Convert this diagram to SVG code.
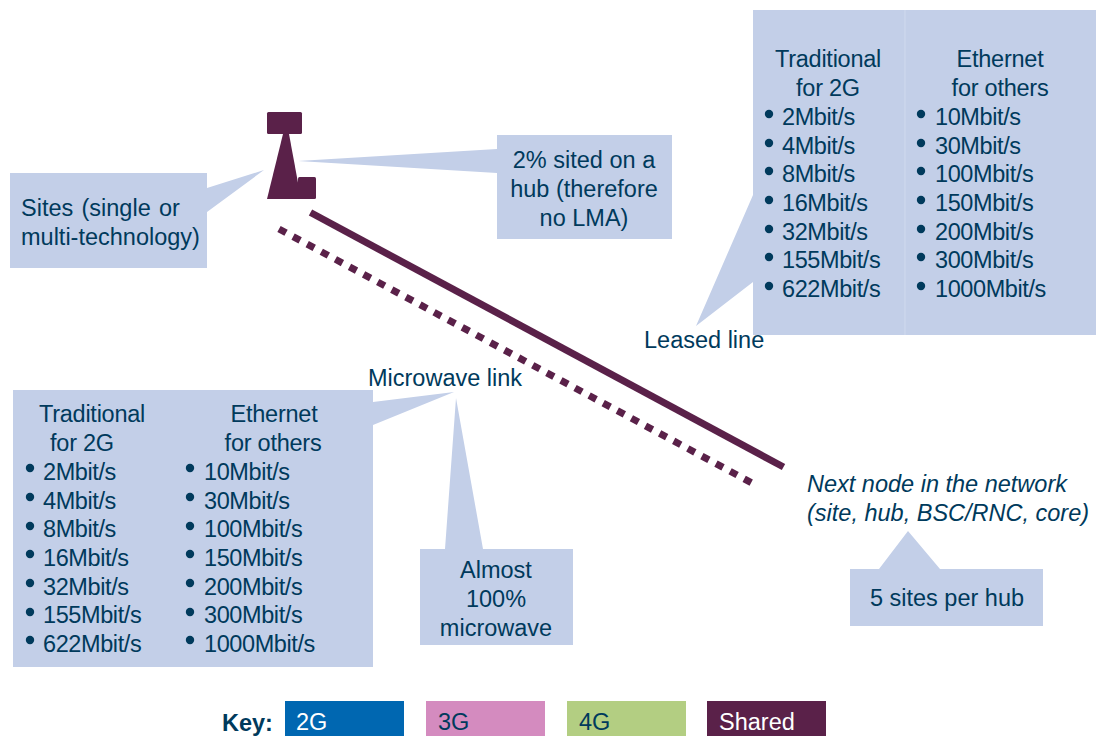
<svg xmlns="http://www.w3.org/2000/svg" width="1096" height="736" viewBox="0 0 1096 736">
<style>
text{font-family:"Liberation Sans",Arial,sans-serif;font-size:23.5px;fill:#003A5C}
.m{text-anchor:middle}
.b{fill:#C3CFE8}
.d{fill:#003A5C}
.t{fill:#5A2149}
.i{font-style:italic}
.mb text{letter-spacing:-.4px}
.h{letter-spacing:-.25px}
</style>
<defs>
<g id="bullet"><circle cx="0" cy="0" r="4.2" class="d"/></g>
</defs>
<g id="connectors">
<line x1="310.5" y1="212.500" x2="783.500" y2="467" stroke="#5A2149" stroke-width="7"/>
<line x1="279" y1="229" x2="752" y2="483" stroke="#5A2149" stroke-width="7" stroke-dasharray="8 8"/>
</g>
<g id="site-icon">
<rect x="267" y="112" width="35" height="22" rx="1.5" class="t"/>
<polygon points="283,134 289,134 301,199 267,199" class="t"/>
<rect x="298" y="177" width="18" height="22" rx="1.5" class="t"/>
</g>
<g id="sites-callout">
<polygon points="10,173 207,173 207,188 264,170 207,212 207,268 10,268" class="b"/>
<text x="21" y="216" word-spacing="1.7">Sites (single or</text>
<text x="21" y="244.500">multi-technology)</text>
</g>
<g id="hub-callout">
<polygon points="497,135 672,135 672,239 497,239 497,173 298,161 497,149" class="b"/>
<text x="584" y="168" class="m">2% sited on a</text>
<text x="584" y="197" class="m">hub (therefore</text>
<text x="584" y="226" class="m">no LMA)</text>
</g>
<g id="leased-line">
<polygon points="753,10 1096,10 1096,335 753,335 753,282 696,326 753,195" class="b"/>
<line x1="905" y1="10" x2="905" y2="335" stroke="#D0DAEE" stroke-width="1"/>
<text x="828" y="67" class="m h">Traditional</text>
<text x="828" y="96" class="m h">for 2G</text>
<g class="mb"><text x="782" y="125">2Mbit/s</text><text x="782" y="153.500">4Mbit/s</text><text x="782" y="182">8Mbit/s</text><text x="782" y="211">16Mbit/s</text><text x="782" y="240">32Mbit/s</text><text x="782" y="268">155Mbit/s</text><text x="782" y="297">622Mbit/s</text></g>
<use href="#bullet" x="769" y="114"/><use href="#bullet" x="769" y="143"/><use href="#bullet" x="769" y="171"/><use href="#bullet" x="769" y="200"/><use href="#bullet" x="769" y="229"/><use href="#bullet" x="769" y="257"/><use href="#bullet" x="769" y="286"/>
<text x="1000" y="67" class="m h">Ethernet</text>
<text x="1000" y="96" class="m h">for others</text>
<g class="mb"><text x="935" y="125">10Mbit/s</text><text x="935" y="153.500">30Mbit/s</text><text x="935" y="182">100Mbit/s</text><text x="935" y="211">150Mbit/s</text><text x="935" y="240">200Mbit/s</text><text x="935" y="268">300Mbit/s</text><text x="935" y="297">1000Mbit/s</text></g>
<use href="#bullet" x="921" y="114"/><use href="#bullet" x="921" y="143"/><use href="#bullet" x="921" y="171"/><use href="#bullet" x="921" y="200"/><use href="#bullet" x="921" y="229"/><use href="#bullet" x="921" y="257"/><use href="#bullet" x="921" y="286"/>
<text x="644" y="348">Leased line</text>
</g>
<g id="microwave-link">
<polygon points="13,390 373,390 373,402 454,392 373,425 373,667 13,667" class="b"/>
<text x="92" y="422" class="m h">Traditional</text>
<text x="82" y="451" class="m h">for 2G</text>
<g class="mb"><text x="43" y="480">2Mbit/s</text><text x="43" y="508.500">4Mbit/s</text><text x="43" y="537">8Mbit/s</text><text x="43" y="566">16Mbit/s</text><text x="43" y="595">32Mbit/s</text><text x="43" y="623">155Mbit/s</text><text x="43" y="652">622Mbit/s</text></g>
<use href="#bullet" x="30" y="468"/><use href="#bullet" x="30" y="497"/><use href="#bullet" x="30" y="526"/><use href="#bullet" x="30" y="554"/><use href="#bullet" x="30" y="583"/><use href="#bullet" x="30" y="612"/><use href="#bullet" x="30" y="640"/>
<text x="274" y="422" class="m h">Ethernet</text>
<text x="273" y="451" class="m h">for others</text>
<g class="mb"><text x="204" y="480">10Mbit/s</text><text x="204" y="508.500">30Mbit/s</text><text x="204" y="537">100Mbit/s</text><text x="204" y="566">150Mbit/s</text><text x="204" y="595">200Mbit/s</text><text x="204" y="623">300Mbit/s</text><text x="204" y="652">1000Mbit/s</text></g>
<use href="#bullet" x="190" y="468"/><use href="#bullet" x="190" y="497"/><use href="#bullet" x="190" y="526"/><use href="#bullet" x="190" y="554"/><use href="#bullet" x="190" y="583"/><use href="#bullet" x="190" y="612"/><use href="#bullet" x="190" y="640"/>
<text x="368" y="386">Microwave link</text>
</g>
<g id="microwave-share">
<polygon points="420,549 445,549 456,398 483,549 573,549 573,645 420,645" class="b"/>
<text x="496" y="578" class="m">Almost</text>
<text x="496" y="607" class="m">100%</text>
<text x="496" y="636" class="m">microwave</text>
</g>
<g id="next-node">
<text x="807" y="492" class="i">Next node in the network</text>
<text x="807" y="521" class="i">(site, hub, BSC/RNC, core)</text>
</g>
<g id="hub-ratio">
<polygon points="850,569 879,569 908,531 940,569 1043,569 1043,626 850,626" class="b"/>
<text x="947" y="606" class="m">5 sites per hub</text>
</g>
<g id="key">
<text x="222" y="731" style="font-weight:bold">Key:</text>
<rect x="285" y="701" width="119" height="35" fill="#0067B1"/>
<text x="296" y="730" style="fill:#fff">2G</text>
<rect x="426" y="701" width="119" height="35" fill="#D48BBF"/>
<text x="438" y="730">3G</text>
<rect x="567" y="701" width="119" height="35" fill="#B3CE82"/>
<text x="579" y="730">4G</text>
<rect x="707" y="701" width="119" height="35" fill="#5A2149"/>
<text x="719" y="730" style="fill:#fff">Shared</text>
</g>
</svg>
